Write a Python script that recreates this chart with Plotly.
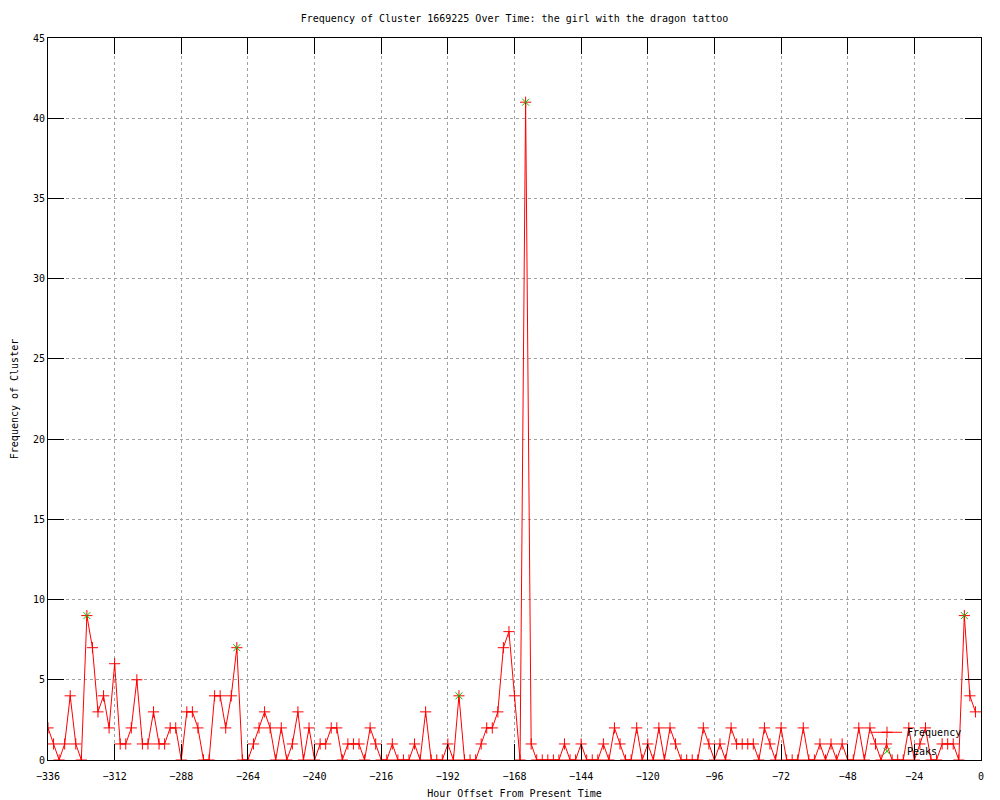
import plotly.graph_objects as go

# hour offsets (every 2 hours) and the cluster frequency
hours = list(range(-336, 0, 2))
frequency = [
    2, 1, 0, 1, 4, 1, 0, 9, 7, 3, 4, 2, 6, 1, 1, 2, 5, 1, 1, 3, 1, 1,
    2, 2, 0, 3, 3, 2, 0, 0, 4, 4, 2, 4, 7, 0, 0, 1, 2, 3, 2, 0, 2, 0,
    1, 3, 0, 2, 0, 1, 1, 2, 2, 0, 1, 1, 1, 0, 2, 1, 0, 0, 1, 0, 0, 0,
    1, 0, 3, 0, 0, 0, 1, 0, 4, 0, 0, 0, 1, 2, 2, 3, 7, 8, 4, 0, 41, 1,
    0, 0, 0, 0, 0, 1, 0, 0, 1, 0, 0, 0, 1, 0, 2, 1, 0, 0, 2, 0, 1, 0,
    2, 0, 2, 1, 0, 0, 0, 0, 2, 1, 0, 1, 0, 2, 1, 1, 1, 1, 0, 2, 1, 0,
    2, 0, 0, 0, 2, 0, 0, 1, 0, 1, 0, 1, 0, 0, 2, 0, 2, 1, 0, 1, 0, 0,
    0, 2, 0, 1, 2, 0, 0, 1, 1, 1, 0, 9, 4, 3,
]

peak_hours = [-322, -268, -188, -164, -6]
peak_values = [9, 7, 4, 41, 9]

x_ticks = list(range(-336, 1, 24))
y_ticks = list(range(0, 46, 5))

title = "Frequency of Cluster 1669225 Over Time: the girl with the dragon tattoo"
font = "DejaVu Sans Mono"

fig = go.Figure()

fig.add_trace(go.Scatter(
    x=hours, y=frequency,
    mode="lines+markers",
    name="Frequency",
    line=dict(color="#ff0000", width=1),
    marker=dict(symbol="cross-thin-open", size=8, color="#ff0000",
                line=dict(color="#ff0000", width=1)),
))

fig.add_trace(go.Scatter(
    x=peak_hours, y=peak_values,
    mode="markers",
    name="Peaks",
    marker=dict(symbol="x-thin-open", size=7, color="#00c000",
                line=dict(color="#00c000", width=1)),
))

axis_style = dict(
    showline=True, linecolor="black", linewidth=1, mirror="ticks",
    ticks="inside", ticklen=16, tickcolor="black", tickwidth=1,
    showgrid=True, gridcolor="#a0a0a0", griddash="dot", gridwidth=1,
    zeroline=False, automargin=False,
    tickfont=dict(family=font, size=10, color="black"),
)

fig.update_xaxes(
    range=[-336, 0], tickvals=x_ticks, ticklabelstandoff=7,
    title=dict(text="Hour Offset From Present Time",
               font=dict(family=font, size=10, color="black"), standoff=8),
    **axis_style,
)
fig.update_yaxes(
    range=[0, 45], tickvals=y_ticks,
    title=dict(text="Frequency of Cluster",
               font=dict(family=font, size=10, color="black"), standoff=12),
    **axis_style,
)

# the page body adds an 8px offset, so margins are shifted to compensate
fig.update_layout(
    width=1000, height=800,
    margin=dict(l=40, r=27, t=30, b=48, autoexpand=False),
    paper_bgcolor="white", plot_bgcolor="white",
    font=dict(family=font, size=10, color="black"),
    title=dict(text=title, x=0.5, xref="paper", y=1 - 10 / 800,
               yanchor="middle", font=dict(family=font, size=10, color="black")),
    legend=dict(x=0.985, y=-0.008, xanchor="right", yanchor="bottom",
                bgcolor="rgba(0,0,0,0)", font=dict(family=font, size=10),
                tracegroupgap=0, itemwidth=30),
    showlegend=True,
)

fig.write_html("out.html")
